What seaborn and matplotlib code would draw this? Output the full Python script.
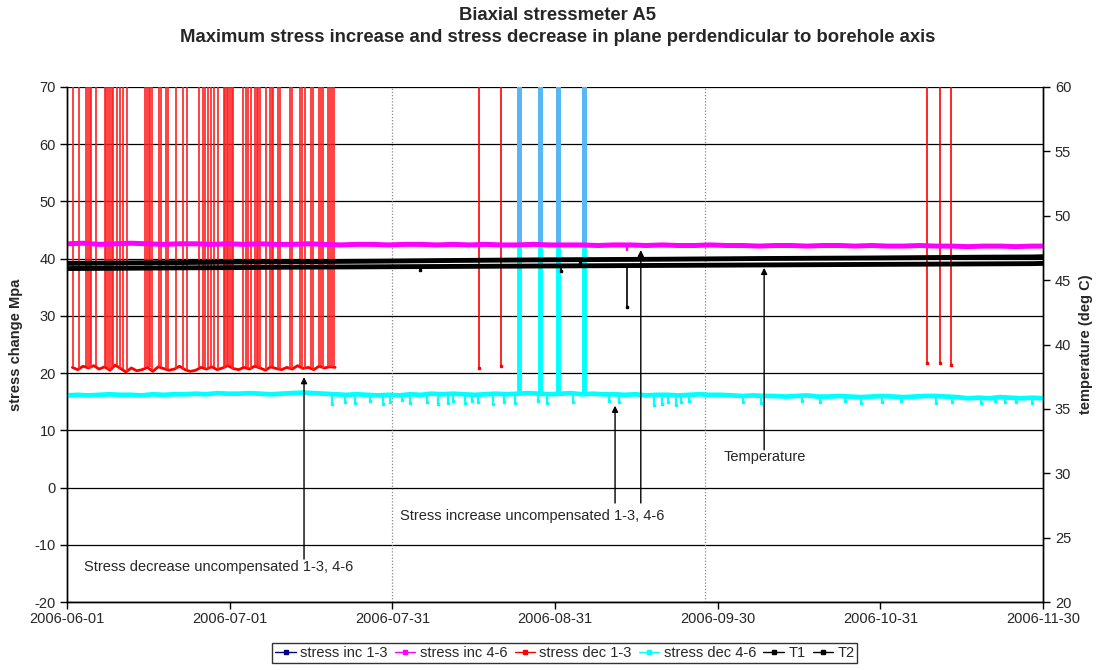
import numpy as np
import pandas as pd
import matplotlib
matplotlib.use("Agg")
import matplotlib.pyplot as plt
from matplotlib.lines import Line2D
import seaborn as sns

sns.set_style("white")
plt.rcParams["font.family"] = ["Liberation Sans", "DejaVu Sans"]
plt.rcParams["axes.unicode_minus"] = False

START = pd.Timestamp("2006-06-01")
SPAN_DAYS = 182
OFF_SCALE = 1000.0  # readings beyond the top of the stress axis
FS = 10.5

x_tick_labels = ["2006-06-01", "2006-07-01", "2006-07-31", "2006-08-31",
                 "2006-09-30", "2006-10-31", "2006-11-30"]

# all day values are days since 2006-06-01

# --- stress inc 4-6 (magenta) ------------------------------------------
inc46_days = list(range(0, 181, 3)) + [182]
inc46_vals = [42.6, 42.7, 42.5, 42.6, 42.7, 42.6, 42.5, 42.6, 42.6, 42.5,
              42.6, 42.5, 42.6, 42.5, 42.5, 42.6, 42.5, 42.4, 42.5, 42.5,
              42.4, 42.5, 42.5, 42.4, 42.5, 42.4, 42.5, 42.4, 42.4, 42.5,
              42.4, 42.4, 42.4, 42.3, 42.4, 42.4, 42.3, 42.4, 42.3, 42.3,
              42.4, 42.3, 42.3, 42.2, 42.3, 42.3, 42.2, 42.3, 42.3, 42.2,
              42.3, 42.2, 42.2, 42.3, 42.2, 42.2, 42.1, 42.2, 42.2, 42.1,
              42.2, 42.2]
inc46_dip_days = [104.4, 112.0]
inc46_dip_vals = [41.4, 42.0]

# --- stress inc 1-3 (navy): off scale except four readings --------------
inc13_dip_days = [84.3, 88.2, 91.6, 96.4]
inc13_dip_vals = [42.5, 42.5, 42.4, 42.4]

# --- stress dec 1-3 (red) ------------------------------------------------
dec13_days = list(range(1, 51))
dec13_vals = [21.0, 20.6, 21.2, 20.9, 21.3, 20.7, 21.1, 20.5, 21.4, 20.8,
              20.2, 20.9, 20.4, 20.6, 21.0, 20.3, 21.1, 20.8, 20.5, 20.7,
              21.2, 20.6, 20.3, 20.5, 21.0, 20.7, 21.1, 20.6, 20.9, 21.3,
              20.8, 20.6, 21.0, 20.7, 21.2, 20.9, 20.5, 21.1, 20.8, 20.6,
              21.0, 20.7, 21.3, 20.8, 21.0, 20.6, 21.2, 20.9, 21.1, 21.0]
dec13_spike_days = [1.2, 2.2, 3.5, 3.9, 4.2, 4.5, 5.5, 7.0, 7.3, 7.7, 8.0, 8.3,
                    8.6, 9.3, 9.8, 10.5, 11.1, 14.6, 14.9, 15.2, 15.5, 15.9,
                    17.2, 17.5, 18.5, 18.8, 20.3, 21.6, 22.3, 24.7, 25.4, 25.7,
                    26.2, 26.9, 27.5, 28.2, 29.2, 29.5, 29.8, 30.1, 30.4, 30.7,
                    31.0, 32.9, 33.4, 33.7, 34.4, 35.1, 35.4, 35.7, 36.0, 37.2,
                    37.9, 38.2, 38.5, 39.4, 39.7, 41.6, 41.9, 43.5, 43.8, 44.4,
                    45.5, 45.9, 47.0, 47.4, 47.8, 48.6, 49.0, 49.4, 49.8]
dec13_dip_days = [76.9, 80.9, 160.4, 162.7, 164.8]
dec13_dip_vals = [20.9, 21.2, 21.7, 21.8, 21.4]

# --- stress dec 4-6 (cyan) -----------------------------------------------
dec46_days = list(range(0, 183, 2))
dec46_vals = [16.1, 16.2, 16.1, 16.2, 16.3, 16.2, 16.2, 16.1, 16.3, 16.2, 16.3,
              16.3, 16.4, 16.3, 16.5, 16.4, 16.4, 16.5, 16.4, 16.3, 16.4,
              16.5, 16.6, 16.5, 16.4, 16.3, 16.2, 16.3, 16.2, 16.1, 16.2,
              16.1, 16.3, 16.2, 16.4, 16.3, 16.4, 16.3, 16.2, 16.3, 16.4,
              16.3, 16.4, 16.5, 16.4, 16.3, 16.4, 16.5, 16.3, 16.4, 16.3,
              16.3, 16.2, 16.3, 16.1, 16.2, 16.2, 16.1, 16.2, 16.3, 16.2,
              16.2, 16.1, 16.0, 16.1, 16.0, 16.0, 15.9, 16.0, 16.1, 15.9,
              15.9, 16.0, 15.9, 15.8, 15.9, 16.0, 15.9, 15.8, 15.9, 16.0,
              16.0, 15.9, 15.8, 15.6, 15.7, 15.6, 15.8, 15.7, 15.6, 15.7, 15.6]
dec46_dip_days = [49.4, 51.8, 53.7, 56.5, 59.0, 60.2, 62.4, 64.0, 67.1, 69.2,
                  71.1, 72.0, 74.2, 75.5, 76.7, 79.5, 81.4, 83.5, 87.9, 89.5,
                  94.4, 101.0, 103.0, 109.5, 111.0, 112.0, 113.5, 114.5, 116.0,
                  126.0, 129.5, 137.0, 140.5, 145.0, 148.0, 152.0, 155.5,
                  162.0, 165.0, 170.5, 173.0, 175.0, 177.0, 180.0]
dec46_dip_vals = [14.6, 15.0, 14.8, 15.2, 14.6, 14.9, 15.3, 14.7, 15.0, 14.6,
                  14.8, 15.1, 14.7, 15.2, 14.9, 14.6, 15.0, 14.8, 15.2, 14.7,
                  15.0, 15.1, 14.9, 14.4, 14.6, 15.0, 14.5, 14.9, 15.2,
                  15.0, 14.8, 15.1, 14.9, 15.2, 14.8, 15.0, 15.1,
                  14.8, 15.0, 14.7, 15.1, 14.9, 15.0, 14.8]
dec46_spike_days = [84.3, 88.2, 91.6, 96.4]

# --- temperatures (right axis, deg C) ------------------------------------
temp_days = list(range(0, 181, 10)) + [182]
t1_vals = [46.30, 46.33, 46.36, 46.40, 46.42, 46.45, 46.48, 46.52, 46.55, 46.58,
           46.60, 46.62, 46.65, 46.68, 46.70, 46.72, 46.75, 46.78, 46.80, 46.82]
t2_vals = [45.90, 45.92, 45.95, 45.97, 46.00, 46.02, 46.04, 46.06, 46.08, 46.10,
           46.12, 46.14, 46.16, 46.18, 46.20, 46.22, 46.24, 46.26, 46.28, 46.30]
t2_dip_days = [65.8, 92.2, 95.7, 104.4]
t2_dip_vals = [45.8, 45.7, 46.35, 42.9]

# dotted vertical marker lines
marker_days = [60.67, 119.0]


def to_dates(days):
    return START + pd.to_timedelta(np.asarray(days, dtype=float), unit="D")


def nearest(base_days, base_vals, days):
    idx = np.abs(np.subtract.outer(np.asarray(base_days), np.asarray(days))).argmin(axis=0)
    return np.asarray(base_vals)[idx]


def line(ax, days, vals, color, lw, z):
    sns.lineplot(x=to_dates(days), y=vals, ax=ax, color=color, lw=lw,
                 estimator=None, errorbar=None, sort=False, zorder=z)


fig = plt.figure(figsize=(10.97, 6.70), dpi=100)
ax = fig.add_axes([67 / 1097, 68 / 670, 976 / 1097, 515 / 670])

# stress series
line(ax, dec13_days, dec13_vals, "#ff0000", 2.0, 2)
ax.vlines(to_dates(dec13_spike_days), nearest(dec13_days, dec13_vals, dec13_spike_days),
          OFF_SCALE, color="#ff2020", lw=1.2, zorder=2)
ax.vlines(to_dates(dec13_dip_days), dec13_dip_vals, OFF_SCALE, color="#ff0000", lw=1.2, zorder=2)
ax.plot(to_dates(dec13_dip_days), dec13_dip_vals, "s", color="#ff0000", ms=2, zorder=2)

line(ax, dec46_days, dec46_vals, "#00ffff", 3.4, 3)
ax.vlines(to_dates(dec46_dip_days), dec46_dip_vals, nearest(dec46_days, dec46_vals, dec46_dip_days),
          color="#00ffff", lw=1.6, zorder=3)
ax.plot(to_dates(dec46_dip_days), dec46_dip_vals, "s", color="#00ffff", ms=1.8, zorder=3)
ax.vlines(to_dates(dec46_spike_days), nearest(dec46_days, dec46_vals, dec46_spike_days),
          OFF_SCALE, color="#00ffff", lw=3.5, zorder=3)
# navy line over the cyan spikes, blended as in the original export
ax.vlines(to_dates(inc13_dip_days), inc13_dip_vals, OFF_SCALE, color="#5ab4f5",
          lw=3.5, zorder=3.5)

line(ax, inc46_days, inc46_vals, "#ff00ff", 3.6, 4)
ax.vlines(to_dates(inc46_dip_days), inc46_dip_vals, nearest(inc46_days, inc46_vals, inc46_dip_days),
          color="#ff00ff", lw=1.5, zorder=4)

ax.vlines(to_dates(marker_days), -20, 70, color="#888888", lw=0.9, ls=(0, (1, 1.5)), zorder=1)

ax.set_xlim(START, START + pd.Timedelta(days=SPAN_DAYS))
ax.set_ylim(-20, 70)
ax.set_yticks(range(-20, 71, 10))
ax.set_xticks(to_dates(np.linspace(0, SPAN_DAYS, 7)))
ax.set_xticklabels(x_tick_labels)
ax.yaxis.grid(True, color="black", lw=0.9)
ax.set_axisbelow(True)
ax.tick_params(axis="both", direction="out", length=5, width=1, labelsize=FS,
               left=True, bottom=True, color="black", pad=3)
ax.tick_params(axis="x", pad=2)
ax.set_xlabel("")
ax.set_ylabel("stress change Mpa", fontsize=FS, fontweight="bold")
ax.yaxis.set_label_coords(-44 / 976, 0.5)
for s in ax.spines.values():
    s.set_color("black")
    s.set_linewidth(1)
ax.spines["top"].set_visible(False)

# temperatures
ax2 = ax.twinx()
line(ax2, temp_days, t1_vals, "black", 3.5, 5)
line(ax2, temp_days, t2_vals, "black", 3.5, 5)
ax2.vlines(to_dates(t2_dip_days), t2_dip_vals, nearest(temp_days, t2_vals, t2_dip_days),
           color="black", lw=1.2, zorder=5)
ax2.plot(to_dates(t2_dip_days), t2_dip_vals, "s", color="black", ms=2, zorder=5)
ax2.set_ylim(20, 60)
ax2.set_yticks(range(20, 61, 5))
ax2.tick_params(axis="y", direction="out", length=5, width=1, labelsize=FS,
                right=True, color="black")
ax2.set_ylabel("temperature (deg C)", fontsize=FS, fontweight="bold", rotation=90)
ax2.yaxis.set_label_coords(1 + 36 / 976, 0.5)
for s in ax2.spines.values():
    s.set_color("black")
    s.set_linewidth(1)
ax2.spines["top"].set_visible(False)

# annotations
arrow = dict(arrowstyle="-|>", color="black", lw=1, mutation_scale=9, shrinkA=0, shrinkB=0)
d = lambda v: START + pd.Timedelta(days=v)
ax.text(d(3.2), -13.9, "Stress decrease uncompensated 1-3, 4-6", fontsize=FS, va="center")
ax.annotate("", xy=(d(44.2), 19.3), xytext=(d(44.2), -12.5), arrowprops=arrow, zorder=6)
ax.text(d(62.1), -4.9, "Stress increase uncompensated 1-3, 4-6", fontsize=FS, va="center")
ax.annotate("", xy=(d(102.2), 14.3), xytext=(d(102.2), -2.7), arrowprops=arrow, zorder=6)
ax.annotate("", xy=(d(107.0), 41.5), xytext=(d(107.0), -2.7), arrowprops=arrow, zorder=6)
ax.text(d(122.5), 5.3, "Temperature", fontsize=FS, va="center")
ax.annotate("", xy=(d(130.0), 38.4), xytext=(d(130.0), 6.6), arrowprops=arrow, zorder=6)

# titles
fig.text(0.5085, 1 - 15 / 670, "Biaxial stressmeter A5", ha="center", va="center",
         fontsize=13.3, fontweight="bold")
fig.text(0.5085, 1 - 38 / 670,
         "Maximum stress increase and stress decrease in plane perdendicular to borehole axis",
         ha="center", va="center", fontsize=13.3, fontweight="bold")

# legend
names = ["stress inc 1-3", "stress inc 4-6", "stress dec 1-3", "stress dec 4-6", "T1", "T2"]
colors = ["#000080", "#ff00ff", "#ff0000", "#00ffff", "black", "black"]
handles = [Line2D([0], [0], color=c, lw=1, marker="s", ms=2.5) for c in colors]
leg = fig.legend(handles, names, loc="center", bbox_to_anchor=(0.515, 1 - 653 / 670),
                 ncol=6, fontsize=FS, frameon=True, fancybox=False, edgecolor="black",
                 handlelength=1.4, handletextpad=0.3, columnspacing=0.5, borderpad=0.2)
leg.get_frame().set_linewidth(1)

fig.savefig("out.png", dpi=100)
